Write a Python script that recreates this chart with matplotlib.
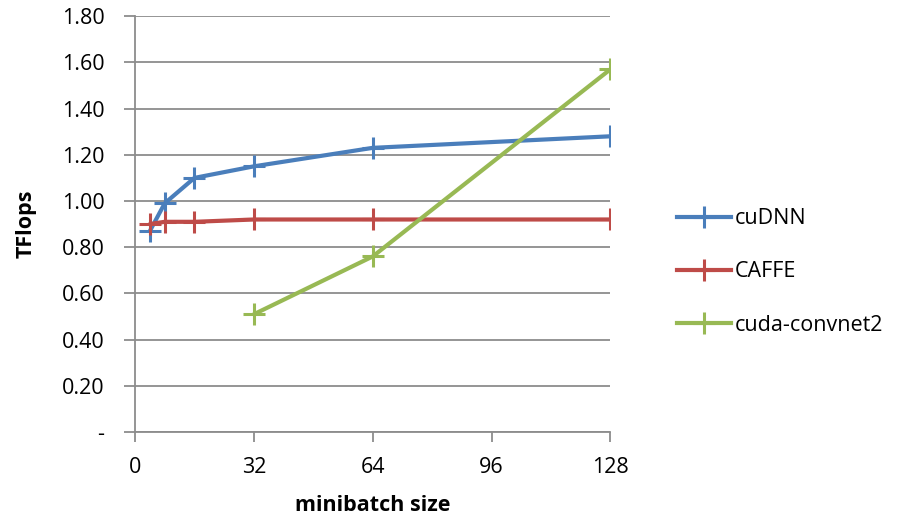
import numpy as np
import matplotlib.pyplot as plt
from matplotlib.lines import Line2D

plt.rcParams['font.family'] = ['Open Sans', 'DejaVu Sans']

# data
batch_cudnn = [4, 8, 16, 32, 64, 128]
tflops_cudnn = [0.87, 0.99, 1.10, 1.15, 1.23, 1.28]
batch_caffe = [4, 8, 16, 32, 64, 128]
tflops_caffe = [0.90, 0.91, 0.91, 0.92, 0.92, 0.92]
batch_convnet = [32, 64, 128]
tflops_convnet = [0.51, 0.76, 1.57]

series_names = ["cuDNN", "CAFFE", "cuda-convnet2"]
colors = ["#4A7EBB", "#BE4B48", "#98B954"]

x_ticks = [0, 32, 64, 96, 128]
y_ticks = [0, 0.2, 0.4, 0.6, 0.8, 1.0, 1.2, 1.4, 1.6, 1.8]
y_labels = ["-"] + ["%.2f" % v for v in y_ticks[1:]]

fs = 15.5

fig = plt.figure(figsize=(8.97, 5.2), dpi=100)
ax = fig.add_axes([0.1505, 0.169, 0.530, 0.800])

for xs, ys, c, name in zip([batch_cudnn, batch_caffe, batch_convnet],
                           [tflops_cudnn, tflops_caffe, tflops_convnet],
                           colors, series_names):
    ax.plot(xs, ys, color=c, linewidth=3, marker='+', markersize=16,
            markeredgewidth=2.2, label=name, solid_capstyle='round', zorder=3)

ax.set_xlim(0, 128)
ax.set_ylim(0, 1.8)
ax.set_xticks(x_ticks)
ax.set_yticks(y_ticks)
ax.set_yticklabels(y_labels)
ax.yaxis.grid(True, color="#8C8C8C", linewidth=1.3)
ax.set_axisbelow(True)

for side in ["top", "right"]:
    ax.spines[side].set_visible(False)
for side in ["left", "bottom"]:
    ax.spines[side].set_color("#8C8C8C")
    ax.spines[side].set_linewidth(1.3)

ax.tick_params(axis='x', direction='out', length=7, width=1.3, color="#8C8C8C",
               labelsize=fs, pad=11)
ax.tick_params(axis='y', direction='out', length=8, width=1.3, color="#8C8C8C",
               labelsize=fs, pad=14)

ax.set_xlabel("minibatch size", fontsize=fs, fontweight='bold', labelpad=12)
ax.set_ylabel("TFlops", fontsize=fs, fontweight='bold', labelpad=18)

handles = [Line2D([], [], color=c, linewidth=3, marker='+', markersize=16,
                  markeredgewidth=2.2) for c in colors]
fig.legend(handles, series_names, loc='center left', bbox_to_anchor=(0.733, 0.477),
           frameon=False, fontsize=fs, labelspacing=1.5, handlelength=2.5,
           handletextpad=0.2)

fig.savefig("out.png", dpi=100)
